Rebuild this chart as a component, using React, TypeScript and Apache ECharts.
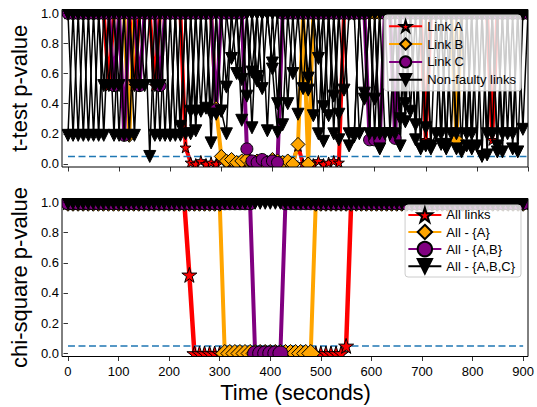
import React, { useEffect, useRef } from 'react';
import * as echarts from 'echarts';

// ---------- data ----------
const timeSeconds = [
  0, 10, 20, 30, 40, 50, 60, 70, 80, 90,
  100, 110, 120, 130, 140, 150, 160, 170, 180, 190,
  200, 210, 220, 230, 240, 250, 260, 270, 280, 290,
  300, 310, 320, 330, 340, 350, 360, 370, 380, 390,
  400, 410, 420, 430, 440, 450, 460, 470, 480, 490,
  500, 510, 520, 530, 540, 550, 560, 570, 580, 590,
  600, 610, 620, 630, 640, 650, 660, 670, 680, 690,
  700, 710, 720, 730, 740, 750, 760, 770, 780, 790,
  800, 810, 820, 830, 840, 850, 860, 870, 880, 890,
  900,
];

// t-test p-values (top panel)
const linkA = [
  1, 1, 1, 1, 1, 1, 1, 1, 0.52, 1,
  1, 1, 1, 0.52, 1, 1, 1, 0.52, 1, 1,
  1, 1, 1, 0.11, 0.01, 0, 0.02, 0, 0.01, 0,
  0.02, 0, 0.01, 0, 0, 0.01, 0, 0, 0.01, 0,
  0, 0.01, 0, 0, 0.01, 0.12, 0, 0.01, 0, 0.02,
  0, 0.01, 0.02, 0.01, 1, 1, 1, 1, 1, 1,
  1, 1, 1, 1, 1, 1, 1, 1, 1, 1,
  0.16, 1, 1, 1, 1, 1, 1, 1, 1, 1,
  1, 1, 1, 0.16, 1, 1, 1, 1, 1, 1,
  1,
];
const linkB = [
  1, 1, 1, 1, 1, 1, 1, 1, 1, 1,
  1, 1, 0.19, 1, 1, 1, 1, 1, 1, 1,
  1, 1, 1, 1, 1, 1, 1, 1, 1, 0.37,
  0.05, 0.02, 0.03, 0.01, 0.02, 0.03, 0.01, 0.02, 0.02, 0.01,
  0.03, 0.02, 0.01, 0.02, 0, 0.13, 1, 0, 1, 1,
  1, 1, 1, 1, 1, 1, 1, 1, 1, 1,
  1, 1, 1, 1, 1, 1, 1, 1, 1, 1,
  1, 1, 1, 1, 1, 1, 0.16, 1, 1, 1,
  1, 1, 1, 1, 1, 1, 1, 1, 1, 1,
  1,
];
const linkC = [
  1, 1, 1, 1, 1, 1, 1, 1, 1, 0.52,
  1, 0.19, 1, 1, 0.52, 1, 1, 1, 0.52, 1,
  1, 1, 1, 1, 1, 1, 1, 1, 1, 0.36,
  1, 1, 1, 1, 1, 0.1, 0.02, 0.01, 0.03, 0.01,
  0.02, 0.01, 1, 1, 1, 1, 1, 1, 1, 1,
  1, 1, 1, 1, 1, 1, 1, 1, 1, 0.16,
  0.16, 0.16, 1, 1, 0.17, 1, 1, 1, 1, 1,
  1, 1, 1, 1, 1, 1, 1, 1, 1, 1,
  1, 1, 1, 1, 1, 1, 1, 1, 1, 1,
  1,
];
const nonFaulty1 = [
  0.19, 1, 0.19, 1, 0.19, 1, 0.19, 1, 0.52, 1,
  0.19, 1, 0.19, 1, 0.52, 1, 0.05, 1, 0.52, 1,
  0.19, 1, 0.19, 1, 0.35, 1, 0.35, 1, 0.14, 1,
  0.35, 1, 1, 0.6, 1, 0.45, 1, 0.55, 1, 0.22,
  1, 0.4, 1, 1, 0.6, 1, 1, 0.57, 1, 1,
  0.38, 1, 1, 0.33, 1, 0.12, 0.18, 1, 1, 0.2,
  1, 0.2, 1, 1, 0.2, 1, 0.4, 1, 0.16, 1,
  0.24, 1, 1, 0.2, 1, 0.2, 1, 0.08, 1, 0.2,
  1, 0.05, 1, 0.2, 1, 0.08, 1, 0.2, 1, 0.23,
  1,
];
const nonFaulty2 = [
  1, 0.19, 1, 0.19, 1, 0.19, 1, 0.19, 1, 0.52,
  1, 0.19, 1, 0.52, 1, 0.52, 1, 0.52, 1, 0.19,
  1, 0.19, 1, 0.2, 1, 0.35, 1, 0.37, 1, 0.33,
  1, 0.51, 1, 1, 0.29, 1, 0.61, 1, 0.5, 1,
  0.67, 1, 0.26, 1, 1, 0.33, 1, 0.49, 1, 0.7,
  1, 0.32, 1, 0.16, 1, 1, 1, 0.2, 0.47, 1,
  0.2, 1, 0.2, 0.2, 1, 0.12, 1, 0.35, 1, 0.1,
  1, 0.12, 0.2, 1, 0.1, 1, 0.2, 1, 0.2, 1,
  0.12, 1, 0.2, 1, 0.08, 1, 0.2, 1, 0.08, 1,
  1,
];
const nonFaulty3 = [
  1, 1, 1, 1, 1, 1, 1, 0.52, 1, 0.19,
  1, 1, 1, 0.19, 1, 1, 1, 1, 0.19, 1,
  1, 1, 0.25, 1, 1, 0.22, 1, 1, 1, 1,
  0.35, 0.2, 1, 1, 0.56, 1, 0.24, 1, 1, 1,
  0.63, 0.21, 1, 1, 1, 1, 0.5, 1, 0.32, 1,
  0.15, 1, 0.2, 1, 0.49, 1, 1, 1, 0.43, 1,
  1, 0.1, 1, 1, 1, 0.3, 1, 1, 0.26, 1,
  1, 0.1, 1, 0.13, 1, 1, 0.1, 1, 0.12, 1,
  1, 1, 0.06, 1, 0.12, 1, 1, 0.1, 1, 1,
  1,
];
const nonFaulty4 = [
  1, 1, 1, 1, 1, 1, 1, 1, 1, 1,
  0.52, 1, 1, 1, 1, 1, 1, 0.19, 1, 1,
  0.19, 1, 1, 1, 0.2, 1, 1, 1, 0.33, 1,
  1, 1, 0.7, 1, 1, 1, 1, 0.58, 1, 1,
  1, 1, 1, 0.4, 1, 1, 1, 1, 1, 0.2,
  1, 1, 0.45, 1, 1, 0.2, 0.2, 1, 1, 1,
  0.43, 1, 1, 0.2, 1, 1, 0.28, 1, 1, 1,
  0.12, 1, 1, 1, 0.13, 1, 1, 1, 1, 0.1,
  1, 1, 1, 1, 1, 0.2, 1, 1, 1, 1,
  1,
];

// chi-square p-values (bottom panel)
const allLinks = [
  1, 1, 1, 1, 1, 1, 1, 1, 1, 1,
  1, 1, 1, 1, 1, 1, 1, 1, 1, 1,
  1, 1, 1, 1, 0.52, 0, 0, 0, 0, 0,
  0, 0, 0, 0, 0, 0, 0, 0, 0, 0,
  0, 0, 0, 0, 0, 0, 0, 0, 0, 0,
  0, 0, 0, 0, 0, 0.05, 1, 1, 1, 1,
  1, 1, 1, 1, 1, 1, 1, 1, 1, 1,
  1, 1, 1, 1, 1, 1, 1, 1, 1, 1,
  1, 1, 1, 1, 1, 1, 1, 1, 1, 1,
  1,
];
const allMinusA = [
  1, 1, 1, 1, 1, 1, 1, 1, 1, 1,
  1, 1, 1, 1, 1, 1, 1, 1, 1, 1,
  1, 1, 1, 1, 1, 1, 1, 1, 1, 1,
  1, 0, 0, 0, 0, 0, 0, 0, 0, 0,
  0, 0, 0, 0, 0, 0, 0, 0, 0, 1,
  1, 1, 1, 1, 1, 1, 1, 1, 1, 1,
  1, 1, 1, 1, 1, 1, 1, 1, 1, 1,
  1, 1, 1, 1, 1, 1, 1, 1, 1, 1,
  1, 1, 1, 1, 1, 1, 1, 1, 1, 1,
  1,
];
const allMinusAB = [
  1, 1, 1, 1, 1, 1, 1, 1, 1, 1,
  1, 1, 1, 1, 1, 1, 1, 1, 1, 1,
  1, 1, 1, 1, 1, 1, 1, 1, 1, 1,
  1, 1, 1, 1, 1, 1, 1, 0, 0, 0,
  0, 0, 0, 1, 1, 1, 1, 1, 1, 1,
  1, 1, 1, 1, 1, 1, 1, 1, 1, 1,
  1, 1, 1, 1, 1, 1, 1, 1, 1, 1,
  1, 1, 1, 1, 1, 1, 1, 1, 1, 1,
  1, 1, 1, 1, 1, 1, 1, 1, 1, 1,
  1,
];
const allMinusABC = [
  1, 1, 1, 1, 1, 1, 1, 1, 1, 1,
  1, 1, 1, 1, 1, 1, 1, 1, 1, 1,
  1, 1, 1, 1, 1, 1, 1, 1, 1, 1,
  1, 1, 1, 1, 1, 1, 1, 1, 1, 1,
  1, 1, 1, 1, 1, 1, 1, 1, 1, 1,
  1, 1, 1, 1, 1, 1, 1, 1, 1, 1,
  1, 1, 1, 1, 1, 1, 1, 1, 1, 1,
  1, 1, 1, 1, 1, 1, 1, 1, 1, 1,
  1, 1, 1, 1, 1, 1, 1, 1, 1, 1,
  1,
];

const thresholdX = [0, 900];
const thresholdY = [0.05, 0.05];
const xTickValues = [0, 100, 200, 300, 400, 500, 600, 700, 800, 900];
const yTickValues = [0, 0.2, 0.4, 0.6, 0.8, 1.0];

// ---------- styling ----------
const W = 537;
const H = 407;
const LEFT = 62;
const RIGHT = 528;
const G0_TOP = 9.5;
const G0_BOTTOM = 167;
const G1_TOP = 198.5;
const G1_BOTTOM = 356.5;
const FONT = 'Liberation Sans';

const STAR =
  'path://M0,-100L22.45,-30.9L95.11,-30.9L36.33,11.8L58.78,80.9L0,38.2L-58.78,80.9L-36.33,11.8L-95.11,-30.9L-22.45,-30.9Z';
const TRI_DOWN = 'path://M0,0L20,0L10,20Z';

const pair = (vals: number[]) => timeSeconds.map((t, i) => [t, vals[i]]);

function lineSeries(
  name: string,
  vals: number[],
  gi: number,
  color: string,
  width: number,
  symbol: string,
  size: number
) {
  return {
    type: 'line',
    name,
    xAxisIndex: gi,
    yAxisIndex: gi,
    data: pair(vals),
    symbol,
    symbolSize: size,
    showSymbol: true,
    showAllSymbol: true,
    lineStyle: { color, width },
    itemStyle: { color, borderColor: '#000', borderWidth: 1 },
    emphasis: { disabled: true },
    silent: true,
    z: 2,
  };
}

function thresholdSeries(gi: number) {
  return {
    type: 'line',
    name: 'threshold' + gi,
    xAxisIndex: gi,
    yAxisIndex: gi,
    data: thresholdX.map((x, i) => [x, thresholdY[i]]),
    symbol: 'none',
    lineStyle: { color: '#1f77b4', width: 1.5, type: [7, 3.5] },
    silent: true,
    z: 2,
  };
}

function xAxis(gi: number, showLabels: boolean) {
  return {
    type: 'value',
    gridIndex: gi,
    min: 0,
    max: 900,
    interval: 100,
    z: 10,
    axisLine: { show: false, onZero: false },
    axisTick: { show: true, inside: false, length: 4.5, lineStyle: { color: '#000', width: 0.8 } },
    axisLabel: {
      show: showLabels,
      fontSize: 13,
      fontFamily: FONT,
      color: '#000',
      margin: 8,
      customValues: xTickValues,
    },
    splitLine: { show: false },
    name: showLabels ? 'Time (seconds)' : '',
    nameLocation: 'middle',
    nameGap: 25,
    nameTextStyle: { fontSize: 22, fontFamily: FONT, color: '#000' },
  };
}

function yAxis(gi: number, name: string) {
  return {
    type: 'value',
    gridIndex: gi,
    min: -0.02,
    max: 1.025,
    z: 10,
    name,
    nameLocation: 'middle',
    nameGap: 33,
    nameTextStyle: { fontSize: 22, fontFamily: FONT, color: '#000' },
    axisLine: { show: false, onZero: false },
    axisTick: {
      show: true,
      inside: false,
      length: 4.5,
      lineStyle: { color: '#000', width: 0.8 },
      customValues: yTickValues,
    },
    axisLabel: {
      show: true,
      customValues: yTickValues,
      formatter: (v: number) => v.toFixed(1),
      fontSize: 13,
      fontFamily: FONT,
      color: '#000',
      margin: 9,
    },
    splitLine: { show: false },
  };
}

const legendBase = {
  orient: 'vertical',
  right: 16,
  z: 20,
  backgroundColor: 'rgba(255,255,255,0.8)',
  borderColor: '#cccccc',
  borderWidth: 1,
  borderRadius: 3,
  selectedMode: false,
  textStyle: { fontSize: 13, fontFamily: FONT, color: '#000' },
};

function whiteRect(x: number, y: number, w: number, h: number) {
  return {
    type: 'rect',
    shape: { x, y, width: w, height: h },
    style: { fill: '#ffffff' },
    z: 5,
    silent: true,
  };
}

function frameRect(top: number, bottom: number) {
  return {
    type: 'rect',
    shape: { x: LEFT, y: top, width: RIGHT - LEFT, height: bottom - top },
    style: { fill: 'none', stroke: '#000', lineWidth: 1 },
    z: 11,
    silent: true,
  };
}

export default function App() {
  const ref = useRef<HTMLDivElement>(null);

  useEffect(() => {
    if (!ref.current) return;
    const chart = echarts.init(ref.current, undefined, { renderer: 'svg', width: W, height: H });

    const option = {
      animation: false,
      backgroundColor: '#ffffff',
      grid: [
        { left: LEFT, top: G0_TOP, width: RIGHT - LEFT, height: G0_BOTTOM - G0_TOP, containLabel: false },
        { left: LEFT, top: G1_TOP, width: RIGHT - LEFT, height: G1_BOTTOM - G1_TOP, containLabel: false },
      ],
      xAxis: [xAxis(0, false), xAxis(1, true)],
      yAxis: [yAxis(0, 't-test p-value'), yAxis(1, 'chi-square p-value')],
      legend: [
        {
          ...legendBase,
          data: ['Link A', 'Link B', 'Link C', 'Non-faulty links'],
          top: 15,
          itemWidth: 33,
          itemHeight: 14,
          itemGap: 4.6,
          padding: [4.7, 5, 4.6, 4],
        },
        {
          ...legendBase,
          data: ['All links', 'All - {A}', 'All - {A,B}', 'All - {A,B,C}'],
          top: 205,
          itemWidth: 33,
          itemHeight: 18,
          itemGap: 0.7,
          padding: [1.7, 6, 2.6, 2.3],
        },
      ],
      graphic: [
        whiteRect(0, 0, W, G0_TOP),
        whiteRect(0, G0_BOTTOM, W, G1_TOP - G0_BOTTOM),
        whiteRect(0, G1_BOTTOM, W, H - G1_BOTTOM),
        whiteRect(0, 0, LEFT, H),
        whiteRect(RIGHT, 0, W - RIGHT, H),
        frameRect(G0_TOP, G0_BOTTOM),
        frameRect(G1_TOP, G1_BOTTOM),
      ],
      series: [
        lineSeries('Link A', linkA, 0, '#ff0000', 4, STAR, 11),
        lineSeries('Link B', linkB, 0, '#ffa500', 4, 'diamond', 14),
        lineSeries('Link C', linkC, 0, '#800080', 4, 'circle', 12),
        lineSeries('Non-faulty links', nonFaulty1, 0, '#000000', 1.5, TRI_DOWN, 12),
        lineSeries('Non-faulty links', nonFaulty2, 0, '#000000', 1.5, TRI_DOWN, 12),
        lineSeries('Non-faulty links', nonFaulty3, 0, '#000000', 1.5, TRI_DOWN, 12),
        lineSeries('Non-faulty links', nonFaulty4, 0, '#000000', 1.5, TRI_DOWN, 12),
        thresholdSeries(0),
        lineSeries('All links', allLinks, 1, '#ff0000', 4.5, STAR, 15),
        lineSeries('All - {A}', allMinusA, 1, '#ffa500', 4, 'diamond', 18),
        lineSeries('All - {A,B}', allMinusAB, 1, '#800080', 4, 'circle', 15),
        lineSeries('All - {A,B,C}', allMinusABC, 1, '#000000', 5, TRI_DOWN, 14),
        thresholdSeries(1),
      ],
    };

    chart.setOption(option as any);
    return () => {
      chart.dispose();
    };
  }, []);

  return (
    <div
      ref={ref}
      style={{ position: 'fixed', left: 0, top: 0, width: W, height: H, background: '#ffffff' }}
    />
  );
}
